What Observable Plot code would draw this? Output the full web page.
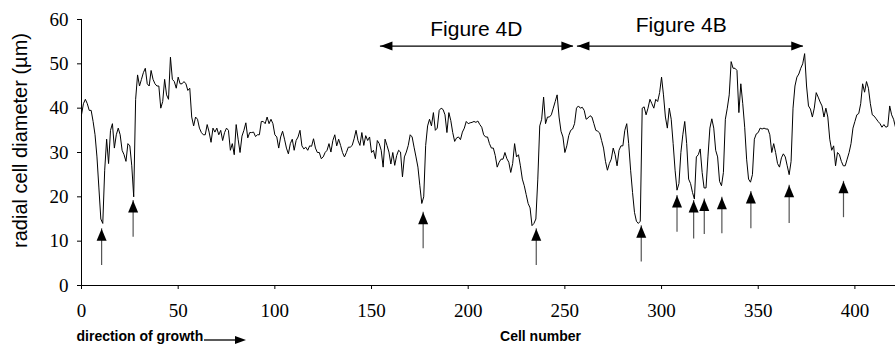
<!DOCTYPE html>
<html><head><meta charset="utf-8">
<script src="https://cdn.jsdelivr.net/npm/d3@7"></script>
<script src="https://cdn.jsdelivr.net/npm/@observablehq/plot@0.6"></script>
<style>
body{margin:0;background:#fff} svg{display:block}
svg text.tick-serif{font-family:"Liberation Serif","Times New Roman","DejaVu Serif",serif !important;}
</style>
</head><body><div id="chart"></div>
<script>
// radial cell diameter (µm) per cell number 0..421
const diameter = [38.5,41,42,41,39.5,39.5,37,34,29,22,
15,14,26,33,27.5,35,36.5,31,34,35.5,
34,30.5,29.5,28,32,31.5,27,20,42,47.5,
45,46.5,48,49,45.5,45,48.5,46.5,45.5,45,
45,40,41.5,46.5,43,42,51.5,46.5,46,44.5,
47,45.5,45.5,46,45.5,44,44.5,38,36,38,
37.5,35.5,34.5,34,34,36.3,34.6,32.3,35.5,34.6,
35.5,34,35,32.7,34.5,35.5,35,30.5,32,29.5,
36.3,33,30,33.7,35,36.7,33.3,34.5,34.5,34.6,
33.6,34,34,37,37,36.5,38,36.5,37.5,36.5,
34,33.5,31,33.5,34.8,33,31,29.7,32,33,
30.5,32.7,33.5,35,31.5,30.8,31.2,30.5,31.5,31.4,
33.1,31,30,30,28.6,29,30,30.5,32,30.1,
32.7,34,31.5,33,31.6,30,29,30,31.2,31.2,
31.6,33.1,35,32.7,31.6,34.5,31.6,33.8,32.7,33.5,
30,30.5,28.6,32.7,32,30.5,26.7,33,31.6,30.1,
27.4,30,27.1,29.3,30.5,30.1,24.5,29,30.1,31.6,
34,33.5,31.2,29,26.7,22.5,18.5,20,31.6,36,
37.5,36,39,35,35.5,39.5,40,39.7,38.5,34.5,
39,37.2,34.5,32.5,33.3,33.5,32.9,34.6,35.5,37,
36.5,36.7,36.8,37,36.8,37.1,36.3,35.7,34,33.5,
33.5,32,31,31,29.3,26.7,27.8,28.5,28.5,30,
28.6,27.8,25.5,27.5,32,29,29.5,27,24,22.5,
20.5,18.5,17.5,13.5,14,15,24,36,37.5,42.5,
36.5,38,38,38.5,40,41.5,43,38,34.8,33.5,
30,31.5,33.8,35,35.3,36.5,40,40.5,40,40.2,
39.5,37.5,37.8,38.3,38,36.5,35,34.8,34.4,32.7,
31,28,26,27.5,28.5,31,29.5,27,30.5,31.5,
31.5,35,36.5,32,26,21,16.5,14.5,14,14.5,
40,40.3,38.5,40,42,41,40,42,41.5,43.5,
47,43,38,35.5,40,37.5,32,26,21.5,23,
30,34,37,32,24,23,21,19.5,29,29.5,
30.8,25.5,22,22,29,35.5,37.6,35.5,30.5,29,
23.5,22.5,25.5,37.5,40,43,50.5,49,49,48.5,
39,45.5,41,35.7,28.5,24,23.3,25,33,34.2,
34.5,35.5,35.3,35.5,35.3,35.3,34,30,32,30,
27.5,26.7,28.8,29.7,29,27,25,28,40,45,
47,47.7,49,50,52.3,45,40.5,39.8,38,40,
43.5,42.5,41.4,40.5,38,40,38,33,30.5,31.5,
27,30,29.5,28,27,27,28.5,30,32,35.5,
37,38.5,38.8,41,45.5,43.6,46,44.5,41,38.5,
38.2,37.6,37,36.5,35.7,36.3,35.7,35.9,40.5,38.5,
37.5,35.7];

const xTicks = [0,50,100,150,200,250,300,350,400];
const yTicks = [0,10,20,30,40,50,60];

// marker arrows (cell, tip value, tail value)
const arrowCells = [10.4,26.7,176.7,235.2,289.5,308,316.6,322.1,331.2,346.2,366,394.1];
const arrowTips  = [12.8,19.2,16.5,12.8,13.5,20.3,19.2,19.5,19.9,21.2,22.6,23.5];
const arrowTails = [4.5,10.9,8.3,4.5,5.3,12,10.5,11.5,11.7,12.8,14,15.3];

// figure spans
const spanLabels = ["Figure 4D","Figure 4B"];
const spanStart = [154.6,256.5];
const spanEnd = [254.4,373.3];
const spanLevels = [54,54];
const spanLabelCells = [204.2,310.2];
const spanLabelLevels = [57.7,58.7];

const sans = "'Liberation Sans', Arial, sans-serif";
const serif = "'Liberation Serif', 'Times New Roman', 'DejaVu Serif', serif";

const upHead = {draw(ctx){ctx.moveTo(0,0);ctx.lineTo(-5,12);ctx.lineTo(5,12);ctx.closePath();}};
const leftHead = {draw(ctx){ctx.moveTo(0,0);ctx.lineTo(12,-4.5);ctx.lineTo(12,4.5);ctx.closePath();}};
const rightHead = {draw(ctx){ctx.moveTo(0,0);ctx.lineTo(-12,-4.5);ctx.lineTo(-12,4.5);ctx.closePath();}};

const series = diameter.map((v,i)=>({cell:i, d:v}));
const arrows = arrowCells.map((c,i)=>({cell:c, tip:arrowTips[i], tail:arrowTails[i]}));
const spans = spanLabels.map((l,i)=>({label:l, x1:spanStart[i], x2:spanEnd[i], y:spanLevels[i], lx:spanLabelCells[i], ly:spanLabelLevels[i]}));

const chart = Plot.plot({
  width:895, height:356, marginLeft:81, marginRight:0, marginTop:19, marginBottom:71,
  style:{fontSize:"19px", background:"white", color:"black", overflow:"visible"},
  x:{domain:[0,421]},
  y:{domain:[0,60]},
  marks:[
    Plot.axisX({ticks:xTicks, tickSize:4, tickPadding:14, fontSize:19, label:null, tickFormat:d=>String(d)}),
    Plot.axisY({ticks:yTicks, tickSize:4, tickPadding:9, fontSize:19, label:null}),
    Plot.ruleY([0],{stroke:"black"}),
    Plot.ruleX([0],{stroke:"black"}),
    Plot.line(series,{x:"cell", y:"d", stroke:"black", strokeWidth:1}),
    Plot.ruleX(arrows,{x:"cell", y1:"tail", y2:"tip", stroke:"#555", strokeWidth:1.2}),
    Plot.dot(arrows,{x:"cell", y:"tip", symbol:upHead, fill:"black"}),
    Plot.ruleY(spans,{x1:"x1", x2:"x2", y:"y", stroke:"black", strokeWidth:1.4}),
    Plot.dot(spans,{x:"x1", y:"y", symbol:leftHead, fill:"black"}),
    Plot.dot(spans,{x:"x2", y:"y", symbol:rightHead, fill:"black"}),
    Plot.text(spans,{x:"lx", y:"ly", text:"label", fontFamily:sans, fontSize:21}),
    Plot.text(["radial cell diameter (µm)"],{frameAnchor:"left", textAnchor:"middle", dx:-61, dy:-12, rotate:-90, fontFamily:sans, fontSize:20}),
    Plot.text(["Cell number"],{frameAnchor:"bottom", dx:52, dy:55, fontFamily:sans, fontSize:14, fontWeight:"bold"}),
    Plot.text(["direction of growth"],{frameAnchor:"bottom-left", textAnchor:"start", dx:-5, dy:55, fontFamily:sans, fontSize:14, fontWeight:"bold"})
  ]
});
document.getElementById("chart").append(chart);

const svg = d3.select(chart);
// tick labels (pure numbers) in the serif face
svg.selectAll("text").each(function(){
  if (/^\d+$/.test(this.textContent.trim())) {
    this.classList.add("tick-serif");
    this.parentNode.setAttribute("font-family", serif);
  }
});
// small decorative arrow after "direction of growth"
svg.append("line").attr("x1",204).attr("x2",236).attr("y1",340).attr("y2",340).attr("stroke","black").attr("stroke-width",1.3);
svg.append("path").attr("d","M246,340L235,336L235,344Z").attr("fill","black");
</script>
</body></html>
